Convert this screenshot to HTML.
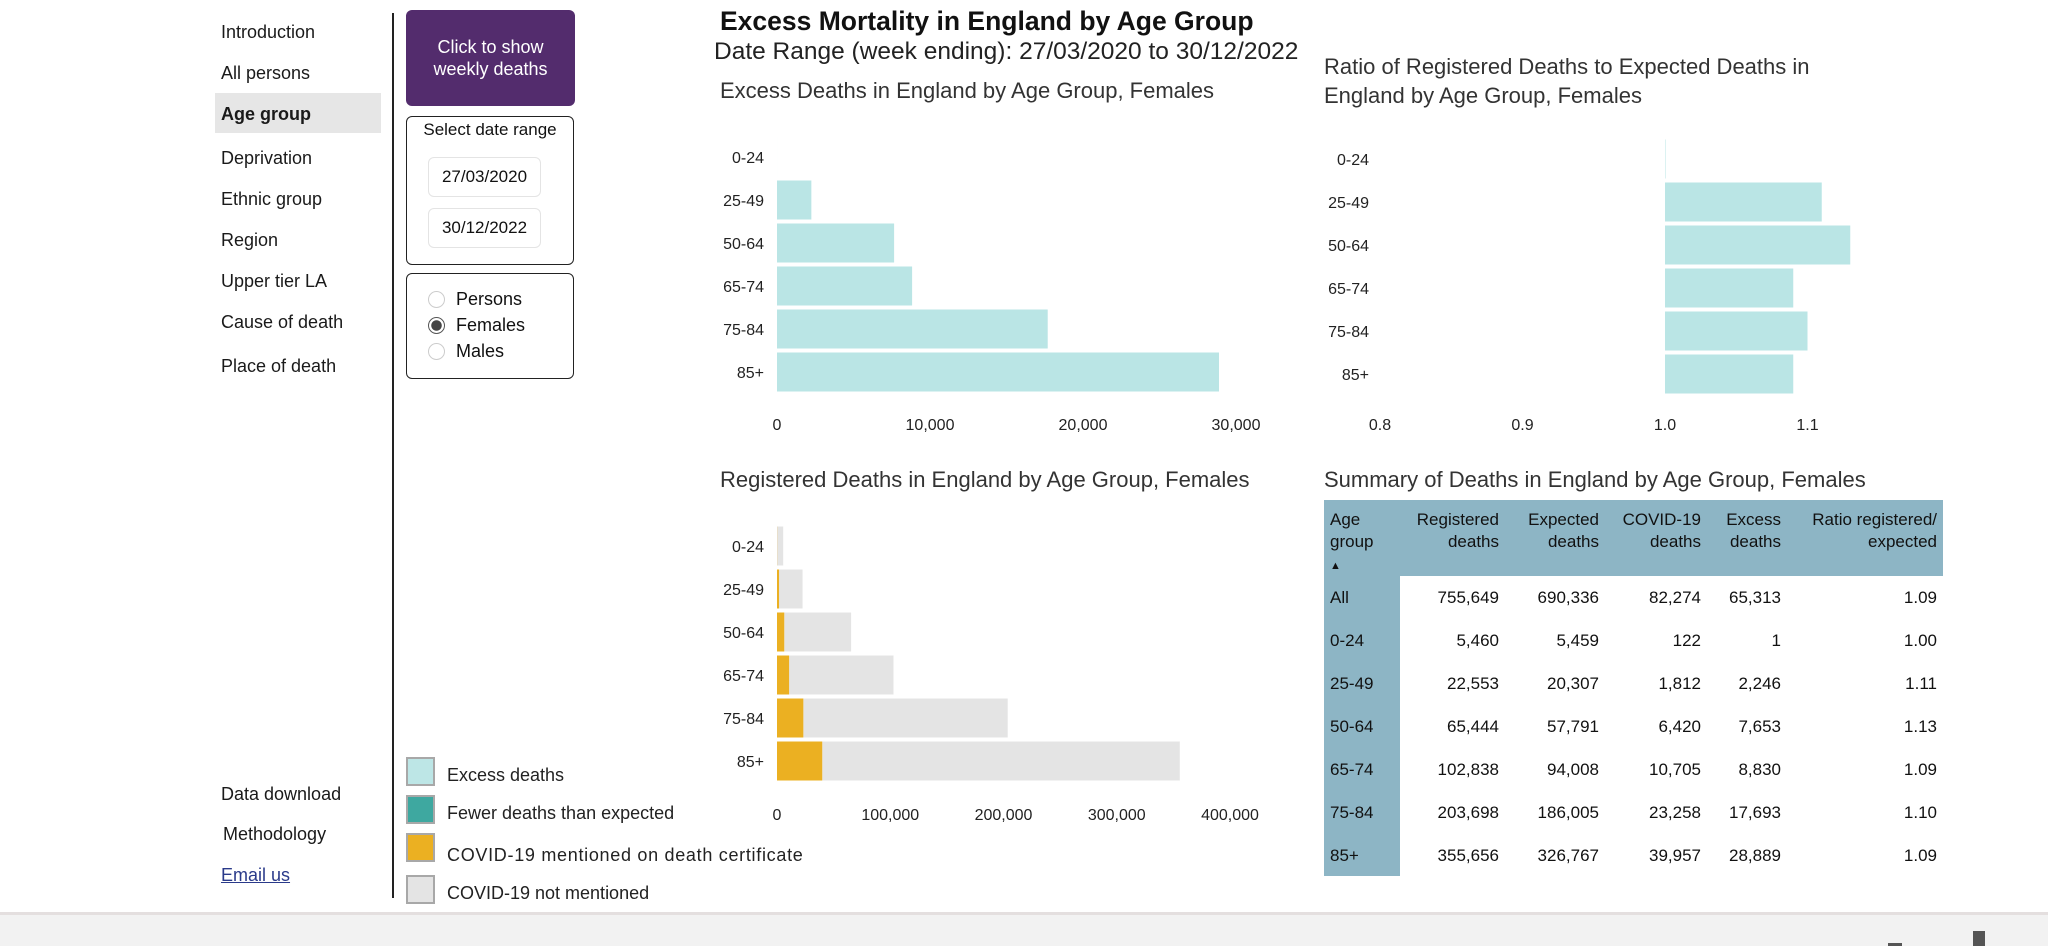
<!DOCTYPE html>
<html><head><meta charset="utf-8">
<style>
*{box-sizing:border-box;margin:0;padding:0}
body{width:2048px;height:946px;background:#fff;position:relative;overflow:hidden;font-family:"Liberation Sans",Arial,sans-serif;color:#111}
.abs{position:absolute}
.nav{position:absolute;left:221px;font-size:18px;color:#1a1a1a;line-height:22px;white-space:nowrap}
.box{position:absolute;border:1.5px solid #222;border-radius:6px;background:#fff}
.inp{position:absolute;border:1px solid #e4e4e4;border-radius:6px;font-size:17px;text-align:center;line-height:38px}
.radio{position:absolute;width:17px;height:17px;border-radius:50%;border:1px solid #ccc;background:#fff}
.rl{position:absolute;font-size:18px;line-height:22px}
.sw{position:absolute;left:406px;width:29px;height:29px;border:2px solid #a8a8a8}
.ll{position:absolute;left:447px;font-size:18px;line-height:20px;color:#222;white-space:nowrap}
svg text{font-family:"Liberation Sans",Arial,sans-serif}
</style></head><body>

<div class="nav" style="top:21px">Introduction</div>
<div class="nav" style="top:62px">All persons</div>
<div class="abs" style="left:215px;top:93px;width:166px;height:40px;background:#e6e6e6"></div>
<div class="nav" style="top:103px;font-weight:bold">Age group</div>
<div class="nav" style="top:147px">Deprivation</div>
<div class="nav" style="top:188px">Ethnic group</div>
<div class="nav" style="top:229px">Region</div>
<div class="nav" style="top:270px">Upper tier LA</div>
<div class="nav" style="top:311px">Cause of death</div>
<div class="nav" style="top:355px">Place of death</div>
<div class="nav" style="top:783px">Data download</div>
<div class="nav" style="top:823px;left:223px">Methodology</div>
<div class="nav" style="top:864px;color:#2a3a8a;text-decoration:underline">Email us</div>

<div class="abs" style="left:392px;top:13px;width:2px;height:885px;background:#222"></div>

<div class="abs" style="left:406px;top:10px;width:169px;height:96px;background:#532c6d;border-radius:6px;color:#fff;font-size:18px;text-align:center;padding-top:26px;line-height:22px">Click to show<br>weekly deaths</div>

<div class="box" style="left:406px;top:116px;width:168px;height:149px"></div>
<div class="abs" style="left:406px;top:120px;width:168px;text-align:center;font-size:17px">Select date range</div>
<div class="inp" style="left:428px;top:157px;width:113px;height:40px">27/03/2020</div>
<div class="inp" style="left:428px;top:208px;width:113px;height:40px">30/12/2022</div>

<div class="box" style="left:406px;top:273px;width:168px;height:106px"></div>
<div class="radio" style="left:428px;top:291px"></div>
<div class="rl" style="left:456px;top:288px">Persons</div>
<div class="radio" style="left:428px;top:317px;border:1px solid #555;background:radial-gradient(circle,#444 0 5px,#fff 5.5px)"></div>
<div class="rl" style="left:456px;top:314px">Females</div>
<div class="radio" style="left:428px;top:343px"></div>
<div class="rl" style="left:456px;top:340px">Males</div>

<div class="sw" style="top:757px;background:#bde6e6"></div>
<div class="ll" style="top:765px">Excess deaths</div>
<div class="sw" style="top:795px;background:#3ea8a0"></div>
<div class="ll" style="top:803px">Fewer deaths than expected</div>
<div class="sw" style="top:833px;background:#ebb022"></div>
<div class="ll" style="top:845px;letter-spacing:0.7px">COVID-19 mentioned on death certificate</div>
<div class="sw" style="top:875px;background:#e4e4e4"></div>
<div class="ll" style="top:883px">COVID-19 not mentioned</div>

<div class="abs" style="left:720px;top:6px;font-size:26.5px;font-weight:bold;color:#111">Excess Mortality in England by Age Group</div>
<div class="abs" style="left:714px;top:38px;font-size:24.5px;color:#222">Date Range (week ending): 27/03/2020 to 30/12/2022</div>

<svg class="abs" style="left:0;top:0" width="2048" height="946" id="charts">
<text x="720" y="98" font-size="22" fill="#333">Excess Deaths in England by Age Group, Females</text>
<text x="1324" y="74" font-size="22" fill="#333">Ratio of Registered Deaths to Expected Deaths in</text>
<text x="1324" y="103" font-size="22" fill="#333">England by Age Group, Females</text>
<text x="720" y="487" font-size="22" fill="#333">Registered Deaths in England by Age Group, Females</text>
<text x="1324" y="487" font-size="22" fill="#333">Summary of Deaths in England by Age Group, Females</text>
<g id="g1"></g><g id="g2"></g><g id="g3"></g>
</svg>

<div class="abs" style="left:1324px;top:500px;width:619px;height:76px;background:#8db5c5"></div>
<div class="abs" style="left:1324px;top:576px;width:76px;height:300px;background:#8db5c5"></div>
<div id="tbl"></div>

<div class="abs" style="left:0;top:912px;width:2048px;height:34px;background:#f2f2f2;border-top:3px solid #e4dfdf"></div>
<div class="abs" style="left:1888px;top:943px;width:14px;height:3px;background:#555"></div>
<div class="abs" style="left:1973px;top:931px;width:12px;height:15px;background:#555"></div>

<script>
const ages = ["0-24","25-49","50-64","65-74","75-84","85+"];
const excessDeaths = [1, 2246, 7653, 8830, 17693, 28889];
const excessTicks = [0, 10000, 20000, 30000];
const ratioValues = [1.00, 1.11, 1.13, 1.09, 1.10, 1.09];
const ratioTicks = [0.8, 0.9, 1.0, 1.1];
const covidDeaths = [122, 1812, 6420, 10705, 23258, 39957];
const registeredDeaths = [5460, 22553, 65444, 102838, 203698, 355656];
const regTicks = [0, 100000, 200000, 300000, 400000];
const tableAges = ["All","0-24","25-49","50-64","65-74","75-84","85+"];
const tReg = ["755,649","5,460","22,553","65,444","102,838","203,698","355,656"];
const tExp = ["690,336","5,459","20,307","57,791","94,008","186,005","326,767"];
const tCovid = ["82,274","122","1,812","6,420","10,705","23,258","39,957"];
const tExcess = ["65,313","1","2,246","7,653","8,830","17,693","28,889"];
const tRatio = ["1.09","1.00","1.11","1.13","1.09","1.10","1.09"];

const NS="http://www.w3.org/2000/svg";
function mk(parent,tag,attrs,txt){const e=document.createElementNS(NS,tag);for(const k in attrs)e.setAttribute(k,attrs[k]);if(txt!==undefined)e.textContent=txt;parent.appendChild(e);return e;}
const fmt=v=>v.toLocaleString("en-GB");

// chart 1
const x1=v=>777+v*(1236-777)/30000;
const y1=i=>157+i*43;
const g1=document.getElementById("g1");
ages.forEach((a,i)=>{
  const t=mk(g1,"text",{x:764,y:y1(i)+6,"font-size":16,"text-anchor":"end",fill:"#222"},a);
  
  
  const r=mk(g1,"rect",{x:x1(0),y:y1(i)-19.5,width:Math.max(0,x1(excessDeaths[i])-x1(0)),height:39,fill:"#bae5e5"});
  
  
});
excessTicks.forEach(v=>{
  const t=mk(g1,"text",{x:x1(v),y:430,"font-size":16,"text-anchor":"middle",fill:"#222"},fmt(v));
  
  
});

// chart 2
const x2=v=>1665+(v-1.0)*1425;
const y2=i=>159+i*43;
const g2=document.getElementById("g2");
ages.forEach((a,i)=>{
  const t=mk(g2,"text",{x:1369,y:y2(i)+6,"font-size":16,"text-anchor":"end",fill:"#222"},a);
  
  
  const v=ratioValues[i];
  const r=mk(g2,"rect",{x:Math.min(x2(1),x2(v)),y:y2(i)-19.5,width:Math.max(0.5,Math.abs(x2(v)-x2(1))),height:39,fill:v>=1?"#bae5e5":"#3ea8a0"});
  
  
});
ratioTicks.forEach(v=>{
  const t=mk(g2,"text",{x:x2(v),y:430,"font-size":16,"text-anchor":"middle",fill:"#222"},v.toFixed(1));
  
  
});

// chart 3
const x3=v=>777+v*(1230-777)/400000;
const y3=i=>546+i*43;
const g3=document.getElementById("g3");
ages.forEach((a,i)=>{
  const t=mk(g3,"text",{x:764,y:y3(i)+6,"font-size":16,"text-anchor":"end",fill:"#222"},a);
  
  
  const r=mk(g3,"rect",{x:x3(covidDeaths[i]),y:y3(i)-19.5,width:x3(registeredDeaths[i])-x3(covidDeaths[i]),height:39,fill:"#e4e4e4"});
  
  
  const c=mk(g3,"rect",{x:x3(0),y:y3(i)-19.5,width:x3(covidDeaths[i])-x3(0),height:39,fill:"#ebb022"});
  
  
});
regTicks.forEach(v=>{
  const t=mk(g3,"text",{x:x3(v),y:820,"font-size":16,"text-anchor":"middle",fill:"#222"},fmt(v));
  
  
});

// table
const tbl=document.getElementById("tbl");
function cell(txt,left,top,width,align,name,extra){
  const d=document.createElement("div");
  d.className="abs";
  d.style.cssText=`left:${left}px;top:${top}px;width:${width}px;text-align:${align};font-size:17px;line-height:22px;color:#111;${extra||""}`;
  d.innerHTML=txt;
  
  
  tbl.appendChild(d);
}
const heads=[["Age<br>group<br><span style='font-size:11px'>&#9650;</span>",1330,200,"left"],["Registered<br>deaths",1400,99,"right"],["Expected<br>deaths",1500,99,"right"],["COVID-19<br>deaths",1600,101,"right"],["Excess<br>deaths",1700,81,"right"],["Ratio registered/<br>expected",1780,157,"right"]];
heads.forEach(h=>cell(h[0],h[1],509,h[2],h[3],"table-header-cell"));
const cols=[[tReg,1400,99],[tExp,1500,99],[tCovid,1600,101],[tExcess,1700,81],[tRatio,1780,157]];
tableAges.forEach((a,i)=>{
  const top=587+i*43;
  cell(a,1330,top,70,"left","table-age-cell");
  cols.forEach(c=>cell(c[0][i],c[1],top,c[2],"right","table-value-cell"));
});
</script>
</body></html>
